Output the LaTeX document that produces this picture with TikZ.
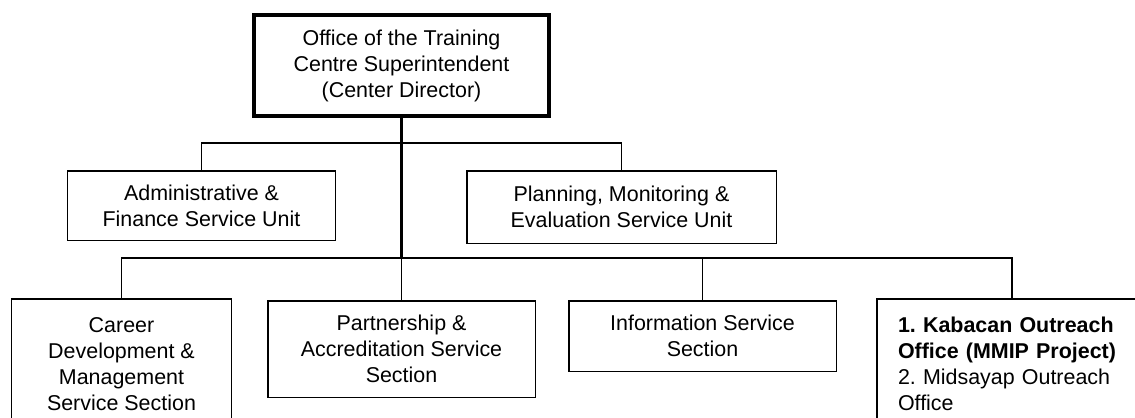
\documentclass[tikz,border=0pt]{standalone}
\usepackage{fontspec}
\setmainfont{Liberation Sans}
\usepackage{tikz}
\frenchspacing
\tikzset{
    every node/.style={font=\fontsize{12.2}{14.8}\selectfont, inner sep=0pt},
    unit/.style={draw, line width=0.85pt, align=center, minimum height=1.4cm},
    head/.style={draw, line width=2.3pt, align=center,
    	minimum width=5.9cm, minimum height=2.02cm},
    link/.style={line width=0.85pt},
    trunk/.style={line width=1.7pt}
}

\begin{document}
\begin{tikzpicture}
  \useasboundingbox (0,0) rectangle (22.7,-8.34);
  \clip (0,0) rectangle (22.7,-8.34);

  \node (head) [head] at (8.03cm, -1.31cm)
    {Office of the Training\\Centre Superintendent\\(Center Director)};

  \node (admin) [unit, minimum width=5.35cm, minimum height=1.39cm]
    at (4.03cm, -4.11cm) {Administrative \&\\Finance Service Unit};
  \node (plan) [unit, minimum width=6.19cm, minimum height=1.45cm]
    at (12.43cm, -4.14cm) {Planning, Monitoring \&\\Evaluation Service Unit};

  \node (career) [unit, minimum width=4.39cm, minimum height=2.6cm]
    at (2.43cm, -7.28cm) {Career\\Development \&\\Management\\Service Section};
  \node (partner) [unit, minimum width=5.35cm, minimum height=1.93cm]
    at (8.03cm, -6.98cm) {Partnership \&\\Accreditation Service\\Section};
  \node (info) [unit, minimum width=5.35cm, minimum height=1.41cm]
    at (14.05cm, -6.72cm) {Information Service\\Section};
  \node (kaba) [unit, minimum width=5.4cm, minimum height=2.6cm,
    text width=4.56cm, align=left] at (20.24cm, -7.28cm)
    {\textbf{1. Kabacan Outreach}\\\textbf{Office (MMIP Project)}\\
     2. Midsayap Outreach\\Office};

  \coordinate (j1) at (8.03cm, -2.86cm);
  \coordinate (j2) at (8.03cm, -5.16cm);

  \draw [trunk] (head) -- (j2);

  \draw [link] (admin) |- (j1) -| (plan);
  \draw [link] (career) |- (j2) -| (kaba);
  \draw [link] (j2) -- (partner);
  \draw [link] (info) |- (j2);
\end{tikzpicture}
\end{document}
